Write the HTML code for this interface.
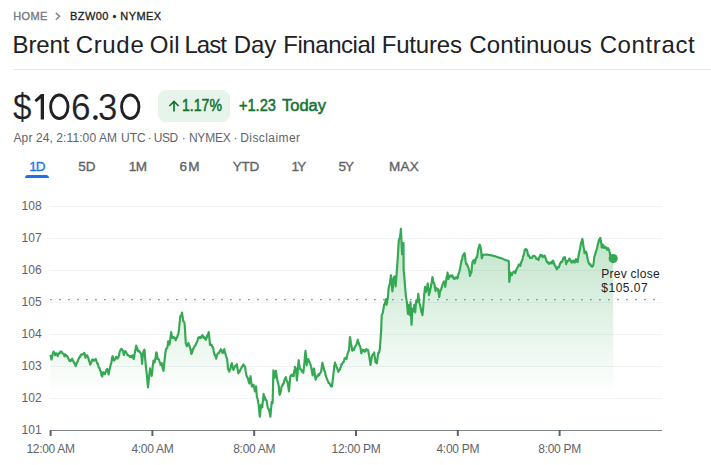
<!DOCTYPE html>
<html><head><meta charset="utf-8">
<style>
html,body{margin:0;padding:0;background:#fff;}
body{width:711px;height:465px;position:relative;overflow:hidden;font-family:"Liberation Sans",sans-serif;}
.abs{position:absolute;white-space:nowrap;line-height:1;}
#crumb1{left:13.2px;top:10.5px;font-size:11px;font-weight:normal;-webkit-text-stroke:0.35px #757a80;letter-spacing:0.4px;color:#757a80;}
#crumb2{left:70px;top:10.5px;font-size:11px;font-weight:normal;-webkit-text-stroke:0.3px #202124;letter-spacing:0.45px;color:#202124;}
.tw{top:32.9px;font-size:24px;color:#202124;transform-origin:0 0;}
#hr{left:13px;top:69px;width:698px;height:1px;background:#e5e7ea;}
.pg{top:89.7px;font-size:36.5px;-webkit-text-stroke:0.15px #fff;color:#202124;transform-origin:0 0;}
#badge{left:158px;top:90px;width:72px;height:32px;border-radius:8px;background:#e6f4ea;}
#pct{left:182.4px;top:97.9px;font-size:16px;font-weight:normal;-webkit-text-stroke:0.5px #137333;color:#137333;transform-origin:0 0;transform:scaleX(0.88);}
#today{left:238.9px;top:97.9px;font-size:16px;font-weight:normal;-webkit-text-stroke:0.5px #137333;color:#137333;transform-origin:0 0;transform:scaleX(0.91);}
#today2{left:282.2px;top:97.9px;font-size:16px;font-weight:normal;-webkit-text-stroke:0.5px #137333;color:#137333;transform-origin:0 0;transform:scaleX(1.03);}
.dt{top:131.5px;font-size:12px;color:#5f6368;transform-origin:0 0;}
.tab{top:159.7px;font-size:13.5px;font-weight:normal;-webkit-text-stroke:0.35px;color:#5f6368;transform:translateX(-50%);}
#t1{color:#1a73e8;}
#ul{left:25px;top:175px;width:24px;height:3px;border-radius:3px 3px 0 0;background:#1a73e8;}
svg text{font-family:"Liberation Sans",sans-serif;font-size:12px;fill:#5f6368;}
</style></head><body>
<div class="abs" id="crumb1">HOME</div>
<svg class="abs" style="left:54px;top:11px" width="9" height="10" viewBox="0 0 9 10"><path d="M1.8 1.9 L5.6 5.35 L1.8 8.8" fill="none" stroke="#80868b" stroke-width="1.45"/></svg>
<div class="abs" id="crumb2">BZW00 • NYMEX</div>
<div class="abs tw" style="left:12.58px;letter-spacing:-0.146px">Brent</div><div class="abs tw" style="left:75.66px;letter-spacing:0.679px">Crude</div><div class="abs tw" style="left:149.85px;letter-spacing:0.162px">Oil</div><div class="abs tw" style="left:184.39px;letter-spacing:-0.911px">Last</div><div class="abs tw" style="left:233.82px;letter-spacing:-0.088px">Day</div><div class="abs tw" style="left:283.3px;letter-spacing:-0.459px">Financial</div><div class="abs tw" style="left:381.66px;letter-spacing:-0.164px">Futures</div><div class="abs tw" style="left:469.26px;letter-spacing:0.12px">Continuous</div><div class="abs tw" style="left:599.65px;letter-spacing:0.624px">Contract</div>
<div class="abs" id="hr"></div>
<div class="abs pg" style="left:12.9px;transform:scaleX(0.91)">$</div>
<div class="abs pg" style="left:70.9px;transform:scaleX(0.965)">6</div>
<div class="abs pg" style="left:98.4px;transform:scaleX(0.953)">3</div>
<svg class="abs" style="left:0;top:85px" width="160" height="45" viewBox="0 85 160 45">
<path d="M44,94.1 L41.0,94.1 L34.5,99.9 L36.3,102.3 L40.7,98.4 L40.7,119.5 L44,119.5 Z" fill="#202124"/>
<ellipse cx="59.3" cy="106.75" rx="8.7" ry="11.75" fill="none" stroke="#202124" stroke-width="2.9"/>
<ellipse cx="130.25" cy="106.75" rx="8.7" ry="11.75" fill="none" stroke="#202124" stroke-width="2.9"/>
<circle cx="95.45" cy="117.6" r="2.3" fill="#202124"/>
</svg>
<div class="abs" id="badge"></div>
<svg class="abs" style="left:167px;top:99px" width="14" height="14" viewBox="0 0 14 14"><path d="M7 12.5 V2.6 M2.4 7 L7 2.4 L11.6 7" fill="none" stroke="#137333" stroke-width="1.7"/></svg>
<div class="abs" id="pct">1.17%</div>
<div class="abs" id="today">+1.23</div><div class="abs" id="today2">Today</div>
<div class="abs dt" style="left:13.5px;letter-spacing:0.1px">Apr 24, 2:11:00</div><div class="abs dt" style="left:99.0px">AM</div><div class="abs dt" style="left:121.0px">UTC</div><div class="abs dt" style="left:147.6px">·</div><div class="abs dt" style="left:153.7px;letter-spacing:-0.4px">USD</div><div class="abs dt" style="left:181.8px">·</div><div class="abs dt" style="left:188.9px;letter-spacing:-0.2px">NYMEX</div><div class="abs dt" style="left:233.4px">·</div><div class="abs dt" style="left:240.2px;letter-spacing:0.43px">Disclaimer</div>
<div class="abs tab" id="t1" style="left:37.4px;letter-spacing:-0.9px;margin-left:-0.45px">1D</div>
<div class="abs tab" style="left:86.9px;letter-spacing:0.2px;margin-left:0.1px">5D</div>
<div class="abs tab" style="left:137.85px;letter-spacing:-0.4px;margin-left:-0.2px">1M</div>
<div class="abs tab" style="left:189.6px;letter-spacing:1.3px;margin-left:0.65px">6M</div>
<div class="abs tab" style="left:246.05px;letter-spacing:-0.2px;margin-left:-0.1px">YTD</div>
<div class="abs tab" style="left:298.85px;letter-spacing:-1.6px;margin-left:-0.8px">1Y</div>
<div class="abs tab" style="left:346.35px;letter-spacing:-1.0px;margin-left:-0.5px">5Y</div>
<div class="abs tab" style="left:403.9px;letter-spacing:0.3px;margin-left:0.15px">MAX</div>
<div class="abs" id="ul"></div>
<svg class="abs" style="left:0;top:0" width="711" height="465" viewBox="0 0 711 465">
<defs><linearGradient id="g" x1="0" y1="0" x2="0" y2="1" gradientUnits="userSpaceOnUse" >
<stop offset="0" stop-color="#34a853" stop-opacity="0.38"/><stop offset="1" stop-color="#34a853" stop-opacity="0"/></linearGradient>
<linearGradient id="g2" x1="0" y1="228" x2="0" y2="394" gradientUnits="userSpaceOnUse">
<stop offset="0" stop-color="#34a853" stop-opacity="0.32"/><stop offset="1" stop-color="#34a853" stop-opacity="0"/></linearGradient></defs>
<rect x="50" y="206" width="612" height="1" fill="#f1f3f4"/><rect x="50" y="238" width="612" height="1" fill="#f1f3f4"/><rect x="50" y="270" width="612" height="1" fill="#f1f3f4"/><rect x="50" y="302" width="612" height="1" fill="#f1f3f4"/><rect x="50" y="334" width="612" height="1" fill="#f1f3f4"/><rect x="50" y="366" width="612" height="1" fill="#f1f3f4"/><rect x="50" y="398" width="612" height="1" fill="#f1f3f4"/>
<polygon points="50.5,430 50.5,356.2 50.5,355.81 51.2,357.74 51.5,359.5 51.9,358.25 52.6,354.21 53.3,352.47 53.5,351.6 54.0,352.39 54.7,353.24 55.2,355.3 55.4,355.12 56.1,353.38 56.8,353.55 56.9,353.6 57.5,354.6 57.7,356.2 58.2,354.3 58.9,353.63 59.4,352.8 59.6,353.45 60.3,351.65 61.0,351.62 61.7,352.25 61.9,351.9 62.4,353.54 63.1,353.64 63.8,354.16 64.5,356.35 64.5,355.3 65.2,354.3 65.9,356.09 66.2,355.3 66.6,355.51 67.3,356.37 68.0,357.48 68.7,359.5 68.7,359.08 69.4,360.9 70.1,360.2 70.4,361.2 70.8,360.79 71.5,359.89 72.1,358.7 72.2,358.67 72.9,360.78 73.6,361.44 73.8,362.9 74.3,362.66 75.0,363.99 75.7,366.05 75.8,365.8 76.4,364.17 77.1,362.2 77.8,361.08 78.0,360.4 78.5,359.28 79.2,357.51 79.9,357.17 80.5,355.3 80.6,355.69 81.3,354.36 82.0,354.76 82.2,354.5 82.7,354.13 83.4,354.31 84.1,353.39 84.2,352.8 84.8,354.13 85.5,357.76 85.6,357.0 86.2,355.56 86.9,355.52 87.3,355.3 87.6,356.82 88.3,357.72 88.9,360.4 89.0,360.73 89.7,362.19 90.1,364.6 90.4,364.27 91.1,362.86 91.8,360.82 92.3,359.5 92.5,360.43 93.2,359.57 93.9,360.78 94.0,360.4 94.6,360.11 95.3,359.51 95.7,359.0 96.0,359.59 96.7,362.04 97.4,363.88 97.4,362.9 98.1,364.94 98.8,367.46 99.1,368.0 99.5,367.83 100.2,370.64 100.8,371.4 100.9,372.11 101.6,375.56 102.1,376.4 102.3,376.41 103.0,372.78 103.3,372.2 103.7,372.42 104.4,373.87 105.0,374.2 105.1,372.9 105.8,372.12 106.5,369.72 107.0,369.2 107.2,368.95 107.9,370.88 108.6,374.5 108.7,374.2 109.3,370.52 110.0,368.0 110.0,367.44 110.7,364.63 111.4,362.56 111.7,360.4 112.1,357.61 112.6,356.2 112.8,356.79 113.5,359.46 113.8,360.4 114.2,360.6 114.9,359.32 115.6,358.29 115.9,357.0 116.3,356.91 117.0,357.91 117.6,358.7 117.7,358.09 118.4,357.15 119.1,355.21 119.3,353.6 119.8,351.6 120.5,349.92 121.0,349.4 121.2,348.92 121.9,349.29 122.6,350.21 122.7,350.3 123.3,352.85 123.9,355.0 124.0,354.18 124.7,351.51 125.2,351.1 125.4,351.22 126.1,352.14 126.8,353.6 126.9,353.6 127.5,355.2 128.2,355.32 128.9,355.63 129.5,356.2 129.6,356.51 130.3,356.99 131.0,355.97 131.1,357.0 131.7,357.15 132.4,356.04 132.5,355.3 133.1,357.82 133.7,358.7 133.8,358.86 134.5,354.51 135.2,351.07 135.4,350.3 135.9,346.43 136.2,345.5 136.6,347.11 137.3,348.16 137.9,351.1 138.0,350.2 138.7,350.84 139.4,351.06 139.6,351.9 140.1,352.55 140.8,353.32 141.3,355.3 141.5,356.33 142.1,363.8 142.2,362.04 142.9,354.99 143.3,351.9 143.6,351.23 144.3,349.63 144.6,350.3 145.0,356.37 145.5,362.1 145.7,364.45 146.3,370.5 146.4,370.72 147.1,377.91 147.8,385.08 148.0,387.4 148.5,382.28 149.2,375.0 149.4,373.9 149.9,370.0 150.0,368.3 150.6,372.07 151.3,374.04 151.7,375.9 152.0,373.32 152.7,366.52 153.4,361.5 153.4,360.62 154.1,361.64 154.7,362.4 154.8,361.29 155.5,358.37 156.2,352.74 156.4,352.3 156.9,353.71 157.6,359.19 157.6,358.2 158.3,359.29 159.0,359.48 159.3,360.7 159.7,362.19 160.4,363.51 160.5,364.9 161.1,364.18 161.8,363.2 161.8,364.25 162.5,367.13 163.2,369.89 163.5,370.8 163.9,366.42 164.6,359.9 164.9,357.3 165.3,353.51 166.0,348.9 166.0,349.5 166.7,348.45 167.2,348.0 167.4,347.27 168.1,341.6 168.2,341.3 168.8,342.39 169.4,344.7 169.5,344.64 170.2,339.79 170.9,334.27 171.1,332.0 171.6,334.8 172.3,337.8 172.3,337.1 173.0,337.88 173.7,337.01 174.4,337.9 174.5,337.9 175.1,338.83 175.7,340.4 175.8,339.17 176.5,337.82 177.0,337.9 177.2,336.81 177.9,334.67 178.4,333.7 178.6,332.29 179.3,326.44 179.5,323.6 180.0,319.26 180.4,316.0 180.7,316.36 181.4,315.07 182.1,312.6 182.1,313.6 182.8,317.65 183.2,321.0 183.5,320.94 184.2,322.26 184.6,323.6 184.9,327.98 185.6,339.78 185.8,343.8 186.3,344.73 187.0,346.25 187.1,345.5 187.7,345.18 188.4,343.13 188.5,343.0 189.1,345.04 189.7,346.4 189.8,347.5 190.5,349.02 191.2,353.37 191.4,353.9 191.9,353.24 192.6,350.77 193.0,348.9 193.3,349.01 194.0,347.38 194.7,346.4 194.7,345.69 195.4,345.64 196.1,343.23 196.4,343.0 196.8,342.46 197.5,340.74 198.1,337.9 198.2,337.62 198.9,337.31 199.6,338.18 199.8,337.1 200.3,337.9 201.0,337.11 201.1,337.9 201.7,336.14 202.4,335.1 202.7,335.4 203.1,336.92 203.8,337.79 204.3,337.9 204.5,337.22 205.2,339.04 205.9,339.71 206.2,338.8 206.6,338.01 207.3,335.35 207.4,335.4 208.0,334.31 208.7,332.8 208.7,331.99 209.4,338.15 209.9,343.8 210.1,344.94 210.8,344.61 211.5,344.71 211.6,344.7 212.2,346.82 212.9,347.08 213.3,348.0 213.6,350.73 214.1,353.1 214.3,354.35 215.0,354.86 215.7,356.82 216.2,358.7 216.4,357.51 217.1,354.81 217.5,353.9 217.8,353.95 218.5,352.9 219.2,353.1 219.2,352.92 219.9,350.68 220.6,350.79 220.9,349.2 221.3,349.8 222.0,351.63 222.6,353.1 222.7,353.05 223.4,352.15 224.1,349.48 224.3,349.2 224.8,352.12 225.5,354.0 225.9,355.6 226.2,356.52 226.9,358.49 227.1,359.0 227.6,363.55 228.0,369.1 228.3,369.57 229.0,370.4 229.3,371.7 229.7,369.38 230.4,368.98 230.7,367.4 231.1,365.28 231.8,363.49 231.9,363.2 232.5,366.25 233.2,368.85 233.5,370.0 233.9,368.63 234.6,367.32 235.2,365.8 235.3,365.87 236.0,366.0 236.7,364.14 236.9,364.9 237.4,368.07 238.1,371.63 238.3,373.4 238.8,372.06 239.5,371.96 240.2,370.19 240.3,370.0 240.9,368.81 241.6,367.69 241.7,366.9 242.3,366.93 243.0,364.86 243.4,364.4 243.7,365.09 244.4,365.88 245.1,366.9 245.1,366.93 245.8,371.9 246.4,375.4 246.5,375.5 247.2,377.07 247.9,378.35 248.1,378.8 248.6,381.52 249.3,383.0 249.3,383.44 250.0,379.86 250.5,376.2 250.7,378.74 251.4,382.73 251.8,386.4 252.1,386.23 252.8,386.38 253.5,385.45 253.5,384.7 254.2,387.25 254.9,391.4 254.9,390.57 255.6,388.09 256.0,386.4 256.3,389.09 256.9,397.3 257.0,397.13 257.7,399.56 258.4,403.67 258.6,404.1 259.1,409.57 259.8,416.6 259.9,416.7 260.5,410.04 261.1,404.9 261.2,405.58 261.9,406.92 262.3,407.4 262.6,403.5 263.3,397.86 263.6,393.9 264.0,396.13 264.7,396.58 265.3,399.0 265.4,400.12 266.1,399.75 266.7,400.7 266.8,401.28 267.5,406.65 267.8,407.4 268.2,409.0 268.9,409.04 269.0,410.0 269.6,412.72 270.3,416.26 270.4,416.7 271.0,409.75 271.7,402.4 271.7,401.73 272.4,402.62 272.6,403.2 273.1,383.13 273.4,370.3 273.8,371.78 274.5,377.39 274.6,377.9 275.2,374.42 275.8,371.2 275.9,370.72 276.6,375.51 277.1,378.8 277.3,379.92 278.0,382.62 278.5,384.7 278.7,385.42 279.4,393.34 279.7,394.8 280.1,393.83 280.8,391.44 281.4,388.0 281.5,386.92 282.2,385.83 282.9,383.89 283.0,384.7 283.6,383.61 284.2,381.3 284.3,380.55 285.0,378.51 285.7,377.42 285.9,377.1 286.4,379.51 287.1,381.4 287.3,381.3 287.8,383.93 288.5,388.1 288.9,391.4 289.2,389.07 289.9,380.7 290.3,376.2 290.6,376.52 291.3,374.9 292.0,374.55 292.3,375.4 292.7,376.04 293.4,375.86 293.7,376.2 294.1,372.16 294.8,368.64 294.9,366.9 295.5,368.12 296.0,368.6 296.2,371.89 296.9,380.4 296.9,379.48 297.6,373.33 298.3,363.74 298.7,360.2 299.0,363.1 299.7,367.1 299.9,368.6 300.4,368.75 301.1,369.92 301.6,370.3 301.8,371.53 302.5,371.11 303.2,371.84 303.3,372.8 303.9,367.41 304.5,361.9 304.6,360.22 305.3,352.24 305.5,350.9 306.0,356.16 306.7,365.3 306.7,364.31 307.4,361.41 308.0,359.3 308.1,359.06 308.8,360.26 309.5,362.47 309.5,361.9 310.2,363.54 310.9,366.1 311.6,369.22 312.3,373.42 312.6,375.4 313.0,372.25 313.7,369.1 313.9,368.6 314.4,370.77 315.1,376.88 315.6,379.6 315.8,379.29 316.5,377.03 317.2,376.18 317.6,375.4 317.9,376.2 318.6,374.0 319.3,375.2 319.3,374.5 320.0,373.32 320.7,372.43 321.0,372.0 321.4,370.08 322.1,364.46 322.4,362.7 322.8,364.29 323.5,367.44 323.9,368.6 324.2,370.63 324.9,371.48 325.2,372.8 325.6,374.94 326.3,377.14 326.9,378.8 327.0,379.35 327.7,380.57 328.4,382.17 328.6,383.0 329.1,382.75 329.8,383.95 330.3,385.5 330.5,384.66 331.2,386.51 331.9,385.81 332.0,386.4 332.6,381.01 333.2,377.1 333.3,375.09 334.0,369.05 334.2,366.1 334.7,364.67 335.0,362.5 335.4,364.08 336.1,365.32 336.7,367.6 336.8,367.28 337.5,369.12 338.2,371.22 338.4,371.8 338.9,370.31 339.6,369.92 340.1,369.3 340.3,367.99 341.0,366.79 341.4,364.2 341.7,364.94 342.4,363.3 343.1,361.94 343.1,362.5 343.8,361.8 344.5,358.62 344.8,358.3 345.2,358.17 345.9,357.72 346.5,359.1 346.6,358.35 347.3,355.11 347.7,353.2 348.0,352.63 348.7,350.62 349.0,350.7 349.4,344.71 349.9,337.2 350.1,337.33 350.8,342.16 351.0,343.9 351.5,345.83 352.2,350.48 352.2,350.7 352.9,349.36 353.6,348.99 353.9,349.9 354.3,348.5 355.0,346.64 355.3,346.5 355.7,345.89 356.4,344.36 356.6,343.9 357.1,342.7 357.8,339.7 357.8,340.05 358.5,342.44 359.1,343.9 359.2,345.02 359.9,345.92 360.3,347.3 360.6,348.39 361.3,353.28 361.5,353.2 362.0,351.16 362.7,350.65 362.8,349.9 363.4,350.78 364.1,350.12 364.5,351.5 364.8,351.8 365.5,350.89 366.2,349.0 366.2,349.28 366.9,349.89 367.6,350.43 367.9,349.9 368.3,351.02 369.0,355.22 369.3,356.6 369.7,359.37 370.4,364.2 370.4,364.94 371.1,361.07 371.8,357.32 371.8,356.6 372.5,355.33 373.0,354.1 373.2,354.68 373.9,353.23 374.2,352.4 374.6,355.93 375.3,360.35 375.5,362.5 376.0,361.79 376.7,362.46 376.9,363.4 377.4,358.87 378.0,354.1 378.1,352.98 378.8,352.86 379.5,350.52 379.7,349.9 380.2,343.55 380.9,334.26 381.2,330.0 381.6,318.48 381.7,315.1 382.3,313.88 383.0,312.5 383.0,311.41 383.7,307.76 384.0,304.8 384.4,304.55 385.1,302.61 385.3,302.2 385.8,299.99 386.0,299.0 386.5,304.18 386.6,304.8 387.2,300.57 387.9,298.22 387.9,297.7 388.5,289.3 388.6,288.36 389.3,285.23 389.8,284.2 390.0,282.05 390.7,277.34 390.9,275.2 391.4,279.92 392.1,288.61 392.4,291.3 392.8,288.16 393.5,279.78 393.7,277.7 394.2,276.72 394.6,276.4 394.9,279.26 395.6,286.1 395.6,286.5 396.3,278.1 396.7,272.6 397.0,268.66 397.7,258.91 397.9,255.8 398.4,246.43 398.8,240.6 399.1,239.12 399.8,237.7 399.9,238.0 400.5,233.02 400.9,228.8 401.2,234.69 401.9,250.03 402.1,254.1 402.6,249.1 403.3,243.7 403.5,243.1 403.6,270.0 404.0,273.34 404.4,277.7 404.7,281.95 405.3,289.3 405.4,290.81 405.9,295.8 406.1,297.59 406.8,301.64 407.0,303.5 407.5,309.26 407.9,313.8 408.2,310.72 408.8,304.8 408.9,306.01 409.6,314.26 409.6,315.1 410.3,305.93 410.5,302.2 411.0,312.84 411.5,324.8 411.7,322.27 412.4,308.7 412.4,309.66 413.1,309.46 413.4,311.3 413.8,308.32 414.3,304.8 414.5,306.95 415.2,311.3 415.2,312.33 415.9,304.19 416.3,300.3 416.6,300.36 417.3,301.56 417.3,302.2 418.0,296.72 418.2,293.9 418.7,296.96 419.4,302.94 419.5,303.5 420.1,305.11 420.8,308.7 420.8,308.75 421.5,312.5 422.2,313.49 422.4,315.1 422.9,310.8 423.3,306.1 423.6,302.25 424.3,293.2 424.3,294.05 425.0,287.25 425.0,286.8 425.7,290.18 425.9,291.9 426.4,290.27 426.8,287.4 427.1,286.5 427.8,283.45 427.9,284.2 428.5,289.65 428.9,295.1 429.2,294.02 429.8,291.9 429.9,291.37 430.6,288.09 430.7,288.1 431.3,284.19 431.7,282.9 432.0,280.07 432.4,277.1 432.7,278.03 433.4,282.31 433.7,282.9 434.1,282.96 434.6,285.5 434.8,287.07 435.5,290.84 435.6,290.6 436.2,288.26 436.6,288.1 436.9,289.26 437.6,289.32 438.2,289.3 438.3,290.96 439.0,295.08 439.2,297.1 439.7,293.6 440.1,291.3 440.4,290.33 441.1,289.94 441.4,288.1 441.8,287.1 442.5,284.49 442.7,284.2 443.2,283.04 443.9,281.31 444.0,281.6 444.6,283.01 445.3,286.8 445.3,285.92 446.0,282.57 446.3,279.7 446.7,276.86 447.4,274.15 447.5,272.6 448.1,275.89 448.5,279.0 448.8,277.88 449.5,277.02 449.8,276.4 450.2,275.53 450.9,275.61 451.1,275.8 451.6,276.65 452.3,276.28 452.4,275.4 453.0,277.59 453.6,278.4 453.7,278.63 454.4,278.88 454.9,277.7 455.1,278.58 455.8,277.39 456.2,277.1 456.5,277.88 457.2,277.11 457.5,278.4 457.9,277.11 458.5,273.9 458.6,273.46 459.3,271.83 459.9,269.3 460.0,269.09 460.7,264.65 461.2,262.5 461.4,260.72 462.1,259.89 462.8,255.37 462.9,255.8 463.5,254.82 464.2,253.47 464.6,253.2 464.9,254.9 465.6,260.88 465.9,262.5 466.3,264.35 467.0,264.17 467.6,265.9 467.7,266.54 468.4,267.81 469.1,270.44 469.3,270.9 469.8,274.31 470.0,276.0 470.5,274.05 471.2,272.34 471.4,272.6 471.9,267.0 472.5,261.7 472.6,262.45 473.3,260.56 473.7,260.0 474.0,260.13 474.7,263.39 474.7,262.5 475.4,261.14 475.9,258.3 476.1,258.04 476.8,256.83 477.1,257.4 477.5,254.14 478.2,249.39 478.4,249.0 478.9,247.15 479.6,244.5 479.8,244.8 480.3,246.31 481.0,249.8 481.0,249.27 481.7,257.39 481.8,258.3 482.4,256.89 482.7,254.9 483.1,254.87 483.8,254.82 484.5,254.77 485.2,254.72 485.9,254.67 486.6,254.62 486.9,254.6 487.3,254.66 488.0,254.78 488.7,254.89 489.4,255.0 490.1,255.11 490.8,255.22 491.5,255.34 491.9,255.4 492.2,255.49 492.9,255.69 493.6,255.9 494.3,256.11 495.0,256.31 495.7,256.52 496.4,256.72 497.0,256.9 497.1,256.93 497.8,257.17 498.5,257.4 499.2,257.63 499.9,257.87 500.6,258.1 501.3,258.33 502.0,258.57 502.1,258.6 502.7,258.84 503.4,259.13 504.1,259.41 504.8,259.69 505.5,259.98 506.2,260.26 506.3,260.3 506.9,260.52 507.6,260.77 508.3,261.02 508.8,261.2 509.0,269.48 509.3,281.9 509.7,279.35 510.4,273.18 510.5,272.6 511.1,273.52 511.8,275.07 511.9,275.2 512.5,273.51 513.0,272.6 513.2,272.21 513.9,271.46 514.6,271.8 515.3,273.19 515.6,272.1 516.0,270.22 516.7,269.2 517.3,267.6 517.4,267.69 518.1,266.8 518.6,265.0 518.8,264.48 519.5,264.97 520.2,265.29 520.3,265.9 520.9,263.58 521.5,261.7 521.6,261.23 522.3,259.92 523.0,257.26 523.2,255.8 523.7,255.07 524.3,252.4 524.4,251.11 525.1,249.43 525.7,249.0 525.8,249.52 526.5,250.36 527.0,249.8 527.2,250.74 527.9,254.49 528.2,255.8 528.6,255.01 529.3,256.4 529.9,257.1 530.0,258.03 530.7,257.75 531.4,257.76 532.1,257.96 532.4,256.9 532.8,256.25 533.5,255.79 534.2,255.72 534.9,256.37 535.0,256.3 535.6,257.41 536.3,258.8 536.7,258.3 537.0,259.0 537.7,259.33 538.4,259.5 538.4,260.08 539.1,257.84 539.7,256.6 539.8,256.62 540.5,254.84 541.2,255.82 541.2,255.2 541.9,255.19 542.6,257.28 542.9,256.6 543.3,256.85 544.0,255.97 544.6,256.3 544.7,255.7 545.4,257.48 545.9,259.1 546.1,259.89 546.8,261.72 547.3,262.5 547.5,261.81 548.2,262.3 548.9,263.87 549.0,263.9 549.6,263.59 550.3,262.58 550.7,262.5 551.0,262.12 551.7,263.47 551.9,263.4 552.4,261.32 553.1,260.56 553.2,260.8 553.8,262.41 554.4,264.2 554.5,265.36 555.2,265.75 555.7,266.2 555.9,267.56 556.6,268.47 556.9,269.3 557.3,268.1 558.0,267.06 558.6,266.7 558.7,267.52 559.4,265.6 560.1,263.36 560.3,263.4 560.8,261.85 561.5,262.2 562.0,261.7 562.2,261.56 562.9,259.17 563.3,258.3 563.6,257.54 564.3,257.92 564.9,257.1 565.0,258.58 565.7,260.87 566.2,264.2 566.4,262.78 567.1,262.04 567.8,260.83 567.9,260.8 568.5,260.5 569.2,258.61 569.6,258.8 569.9,259.87 570.1,259.5 570.6,261.1 571.3,262.08 571.5,262.5 572.0,261.35 572.7,262.33 573.2,260.8 573.4,260.59 574.1,262.4 574.8,261.81 574.9,262.5 575.5,260.03 576.0,259.1 576.2,260.12 576.9,260.64 577.4,262.2 577.6,262.13 578.3,257.39 578.6,255.8 579.0,253.27 579.7,250.11 579.9,249.8 580.4,246.49 581.1,242.3 581.1,242.66 581.8,241.3 582.3,238.9 582.5,239.41 583.2,244.48 583.6,247.3 583.9,248.14 584.6,253.26 584.8,253.2 585.3,252.13 586.0,251.53 586.2,252.4 586.7,253.71 587.3,257.4 587.4,257.53 588.1,261.19 588.7,262.5 588.8,263.44 589.5,263.81 590.2,265.09 590.4,264.2 590.9,265.88 591.6,265.59 592.1,266.7 592.3,265.62 593.0,265.93 593.4,264.2 593.7,262.64 594.4,256.17 594.6,255.8 595.1,254.75 595.8,252.13 595.8,252.4 596.5,249.86 597.1,248.2 597.2,247.41 597.9,244.1 598.5,242.3 598.6,240.92 599.3,239.55 599.7,238.9 600.0,238.24 600.5,238.0 600.7,240.55 601.4,244.15 601.7,247.3 602.1,247.55 602.8,244.54 603.0,244.8 603.5,245.53 604.2,247.3 604.2,248.01 604.9,247.86 605.6,246.85 605.6,247.0 606.3,247.52 606.9,249.8 607.0,249.61 607.7,248.45 608.1,248.2 608.4,249.75 609.1,249.61 609.3,250.7 609.8,252.95 610.3,255.8 610.5,256.87 611.2,255.64 611.9,257.15 612.6,258.71 613.2,258.6 613.2,430" fill="url(#g2)"/>
<rect x="50" y="299" width="1.8" height="1.3" fill="#8a9095"/><rect x="59" y="299" width="1.8" height="1.3" fill="#8a9095"/><rect x="68" y="299" width="1.8" height="1.3" fill="#8a9095"/><rect x="77" y="299" width="1.8" height="1.3" fill="#8a9095"/><rect x="86" y="299" width="1.8" height="1.3" fill="#8a9095"/><rect x="95" y="299" width="1.8" height="1.3" fill="#8a9095"/><rect x="104" y="299" width="1.8" height="1.3" fill="#8a9095"/><rect x="113" y="299" width="1.8" height="1.3" fill="#8a9095"/><rect x="122" y="299" width="1.8" height="1.3" fill="#8a9095"/><rect x="131" y="299" width="1.8" height="1.3" fill="#8a9095"/><rect x="140" y="299" width="1.8" height="1.3" fill="#8a9095"/><rect x="149" y="299" width="1.8" height="1.3" fill="#8a9095"/><rect x="158" y="299" width="1.8" height="1.3" fill="#8a9095"/><rect x="167" y="299" width="1.8" height="1.3" fill="#8a9095"/><rect x="176" y="299" width="1.8" height="1.3" fill="#8a9095"/><rect x="185" y="299" width="1.8" height="1.3" fill="#8a9095"/><rect x="194" y="299" width="1.8" height="1.3" fill="#8a9095"/><rect x="203" y="299" width="1.8" height="1.3" fill="#8a9095"/><rect x="212" y="299" width="1.8" height="1.3" fill="#8a9095"/><rect x="221" y="299" width="1.8" height="1.3" fill="#8a9095"/><rect x="230" y="299" width="1.8" height="1.3" fill="#8a9095"/><rect x="239" y="299" width="1.8" height="1.3" fill="#8a9095"/><rect x="248" y="299" width="1.8" height="1.3" fill="#8a9095"/><rect x="257" y="299" width="1.8" height="1.3" fill="#8a9095"/><rect x="266" y="299" width="1.8" height="1.3" fill="#8a9095"/><rect x="275" y="299" width="1.8" height="1.3" fill="#8a9095"/><rect x="284" y="299" width="1.8" height="1.3" fill="#8a9095"/><rect x="293" y="299" width="1.8" height="1.3" fill="#8a9095"/><rect x="302" y="299" width="1.8" height="1.3" fill="#8a9095"/><rect x="311" y="299" width="1.8" height="1.3" fill="#8a9095"/><rect x="320" y="299" width="1.8" height="1.3" fill="#8a9095"/><rect x="329" y="299" width="1.8" height="1.3" fill="#8a9095"/><rect x="338" y="299" width="1.8" height="1.3" fill="#8a9095"/><rect x="347" y="299" width="1.8" height="1.3" fill="#8a9095"/><rect x="356" y="299" width="1.8" height="1.3" fill="#8a9095"/><rect x="365" y="299" width="1.8" height="1.3" fill="#8a9095"/><rect x="374" y="299" width="1.8" height="1.3" fill="#8a9095"/><rect x="383" y="299" width="1.8" height="1.3" fill="#8a9095"/><rect x="392" y="299" width="1.8" height="1.3" fill="#8a9095"/><rect x="401" y="299" width="1.8" height="1.3" fill="#8a9095"/><rect x="410" y="299" width="1.8" height="1.3" fill="#8a9095"/><rect x="419" y="299" width="1.8" height="1.3" fill="#8a9095"/><rect x="428" y="299" width="1.8" height="1.3" fill="#8a9095"/><rect x="437" y="299" width="1.8" height="1.3" fill="#8a9095"/><rect x="446" y="299" width="1.8" height="1.3" fill="#8a9095"/><rect x="455" y="299" width="1.8" height="1.3" fill="#8a9095"/><rect x="464" y="299" width="1.8" height="1.3" fill="#8a9095"/><rect x="473" y="299" width="1.8" height="1.3" fill="#8a9095"/><rect x="482" y="299" width="1.8" height="1.3" fill="#8a9095"/><rect x="491" y="299" width="1.8" height="1.3" fill="#8a9095"/><rect x="500" y="299" width="1.8" height="1.3" fill="#8a9095"/><rect x="509" y="299" width="1.8" height="1.3" fill="#8a9095"/><rect x="518" y="299" width="1.8" height="1.3" fill="#8a9095"/><rect x="527" y="299" width="1.8" height="1.3" fill="#8a9095"/><rect x="536" y="299" width="1.8" height="1.3" fill="#8a9095"/><rect x="545" y="299" width="1.8" height="1.3" fill="#8a9095"/><rect x="554" y="299" width="1.8" height="1.3" fill="#8a9095"/><rect x="563" y="299" width="1.8" height="1.3" fill="#8a9095"/><rect x="572" y="299" width="1.8" height="1.3" fill="#8a9095"/><rect x="581" y="299" width="1.8" height="1.3" fill="#8a9095"/><rect x="590" y="299" width="1.8" height="1.3" fill="#8a9095"/><rect x="599" y="299" width="1.8" height="1.3" fill="#8a9095"/><rect x="608" y="299" width="1.8" height="1.3" fill="#8a9095"/><rect x="617" y="299" width="1.8" height="1.3" fill="#8a9095"/><rect x="626" y="299" width="1.8" height="1.3" fill="#8a9095"/><rect x="635" y="299" width="1.8" height="1.3" fill="#8a9095"/><rect x="644" y="299" width="1.8" height="1.3" fill="#8a9095"/><rect x="653" y="299" width="1.8" height="1.3" fill="#8a9095"/>
<rect x="50" y="430" width="612" height="1" fill="#80868b"/>
<rect x="49.6" y="430" width="2" height="6" fill="#5f6368"/><rect x="151.4" y="430" width="2" height="6" fill="#5f6368"/><rect x="253.2" y="430" width="2" height="6" fill="#5f6368"/><rect x="355.0" y="430" width="2" height="6" fill="#5f6368"/><rect x="456.8" y="430" width="2" height="6" fill="#5f6368"/><rect x="558.6" y="430" width="2" height="6" fill="#5f6368"/>
<polyline points="50.5,356.2 50.5,355.81 51.2,357.74 51.5,359.5 51.9,358.25 52.6,354.21 53.3,352.47 53.5,351.6 54.0,352.39 54.7,353.24 55.2,355.3 55.4,355.12 56.1,353.38 56.8,353.55 56.9,353.6 57.5,354.6 57.7,356.2 58.2,354.3 58.9,353.63 59.4,352.8 59.6,353.45 60.3,351.65 61.0,351.62 61.7,352.25 61.9,351.9 62.4,353.54 63.1,353.64 63.8,354.16 64.5,356.35 64.5,355.3 65.2,354.3 65.9,356.09 66.2,355.3 66.6,355.51 67.3,356.37 68.0,357.48 68.7,359.5 68.7,359.08 69.4,360.9 70.1,360.2 70.4,361.2 70.8,360.79 71.5,359.89 72.1,358.7 72.2,358.67 72.9,360.78 73.6,361.44 73.8,362.9 74.3,362.66 75.0,363.99 75.7,366.05 75.8,365.8 76.4,364.17 77.1,362.2 77.8,361.08 78.0,360.4 78.5,359.28 79.2,357.51 79.9,357.17 80.5,355.3 80.6,355.69 81.3,354.36 82.0,354.76 82.2,354.5 82.7,354.13 83.4,354.31 84.1,353.39 84.2,352.8 84.8,354.13 85.5,357.76 85.6,357.0 86.2,355.56 86.9,355.52 87.3,355.3 87.6,356.82 88.3,357.72 88.9,360.4 89.0,360.73 89.7,362.19 90.1,364.6 90.4,364.27 91.1,362.86 91.8,360.82 92.3,359.5 92.5,360.43 93.2,359.57 93.9,360.78 94.0,360.4 94.6,360.11 95.3,359.51 95.7,359.0 96.0,359.59 96.7,362.04 97.4,363.88 97.4,362.9 98.1,364.94 98.8,367.46 99.1,368.0 99.5,367.83 100.2,370.64 100.8,371.4 100.9,372.11 101.6,375.56 102.1,376.4 102.3,376.41 103.0,372.78 103.3,372.2 103.7,372.42 104.4,373.87 105.0,374.2 105.1,372.9 105.8,372.12 106.5,369.72 107.0,369.2 107.2,368.95 107.9,370.88 108.6,374.5 108.7,374.2 109.3,370.52 110.0,368.0 110.0,367.44 110.7,364.63 111.4,362.56 111.7,360.4 112.1,357.61 112.6,356.2 112.8,356.79 113.5,359.46 113.8,360.4 114.2,360.6 114.9,359.32 115.6,358.29 115.9,357.0 116.3,356.91 117.0,357.91 117.6,358.7 117.7,358.09 118.4,357.15 119.1,355.21 119.3,353.6 119.8,351.6 120.5,349.92 121.0,349.4 121.2,348.92 121.9,349.29 122.6,350.21 122.7,350.3 123.3,352.85 123.9,355.0 124.0,354.18 124.7,351.51 125.2,351.1 125.4,351.22 126.1,352.14 126.8,353.6 126.9,353.6 127.5,355.2 128.2,355.32 128.9,355.63 129.5,356.2 129.6,356.51 130.3,356.99 131.0,355.97 131.1,357.0 131.7,357.15 132.4,356.04 132.5,355.3 133.1,357.82 133.7,358.7 133.8,358.86 134.5,354.51 135.2,351.07 135.4,350.3 135.9,346.43 136.2,345.5 136.6,347.11 137.3,348.16 137.9,351.1 138.0,350.2 138.7,350.84 139.4,351.06 139.6,351.9 140.1,352.55 140.8,353.32 141.3,355.3 141.5,356.33 142.1,363.8 142.2,362.04 142.9,354.99 143.3,351.9 143.6,351.23 144.3,349.63 144.6,350.3 145.0,356.37 145.5,362.1 145.7,364.45 146.3,370.5 146.4,370.72 147.1,377.91 147.8,385.08 148.0,387.4 148.5,382.28 149.2,375.0 149.4,373.9 149.9,370.0 150.0,368.3 150.6,372.07 151.3,374.04 151.7,375.9 152.0,373.32 152.7,366.52 153.4,361.5 153.4,360.62 154.1,361.64 154.7,362.4 154.8,361.29 155.5,358.37 156.2,352.74 156.4,352.3 156.9,353.71 157.6,359.19 157.6,358.2 158.3,359.29 159.0,359.48 159.3,360.7 159.7,362.19 160.4,363.51 160.5,364.9 161.1,364.18 161.8,363.2 161.8,364.25 162.5,367.13 163.2,369.89 163.5,370.8 163.9,366.42 164.6,359.9 164.9,357.3 165.3,353.51 166.0,348.9 166.0,349.5 166.7,348.45 167.2,348.0 167.4,347.27 168.1,341.6 168.2,341.3 168.8,342.39 169.4,344.7 169.5,344.64 170.2,339.79 170.9,334.27 171.1,332.0 171.6,334.8 172.3,337.8 172.3,337.1 173.0,337.88 173.7,337.01 174.4,337.9 174.5,337.9 175.1,338.83 175.7,340.4 175.8,339.17 176.5,337.82 177.0,337.9 177.2,336.81 177.9,334.67 178.4,333.7 178.6,332.29 179.3,326.44 179.5,323.6 180.0,319.26 180.4,316.0 180.7,316.36 181.4,315.07 182.1,312.6 182.1,313.6 182.8,317.65 183.2,321.0 183.5,320.94 184.2,322.26 184.6,323.6 184.9,327.98 185.6,339.78 185.8,343.8 186.3,344.73 187.0,346.25 187.1,345.5 187.7,345.18 188.4,343.13 188.5,343.0 189.1,345.04 189.7,346.4 189.8,347.5 190.5,349.02 191.2,353.37 191.4,353.9 191.9,353.24 192.6,350.77 193.0,348.9 193.3,349.01 194.0,347.38 194.7,346.4 194.7,345.69 195.4,345.64 196.1,343.23 196.4,343.0 196.8,342.46 197.5,340.74 198.1,337.9 198.2,337.62 198.9,337.31 199.6,338.18 199.8,337.1 200.3,337.9 201.0,337.11 201.1,337.9 201.7,336.14 202.4,335.1 202.7,335.4 203.1,336.92 203.8,337.79 204.3,337.9 204.5,337.22 205.2,339.04 205.9,339.71 206.2,338.8 206.6,338.01 207.3,335.35 207.4,335.4 208.0,334.31 208.7,332.8 208.7,331.99 209.4,338.15 209.9,343.8 210.1,344.94 210.8,344.61 211.5,344.71 211.6,344.7 212.2,346.82 212.9,347.08 213.3,348.0 213.6,350.73 214.1,353.1 214.3,354.35 215.0,354.86 215.7,356.82 216.2,358.7 216.4,357.51 217.1,354.81 217.5,353.9 217.8,353.95 218.5,352.9 219.2,353.1 219.2,352.92 219.9,350.68 220.6,350.79 220.9,349.2 221.3,349.8 222.0,351.63 222.6,353.1 222.7,353.05 223.4,352.15 224.1,349.48 224.3,349.2 224.8,352.12 225.5,354.0 225.9,355.6 226.2,356.52 226.9,358.49 227.1,359.0 227.6,363.55 228.0,369.1 228.3,369.57 229.0,370.4 229.3,371.7 229.7,369.38 230.4,368.98 230.7,367.4 231.1,365.28 231.8,363.49 231.9,363.2 232.5,366.25 233.2,368.85 233.5,370.0 233.9,368.63 234.6,367.32 235.2,365.8 235.3,365.87 236.0,366.0 236.7,364.14 236.9,364.9 237.4,368.07 238.1,371.63 238.3,373.4 238.8,372.06 239.5,371.96 240.2,370.19 240.3,370.0 240.9,368.81 241.6,367.69 241.7,366.9 242.3,366.93 243.0,364.86 243.4,364.4 243.7,365.09 244.4,365.88 245.1,366.9 245.1,366.93 245.8,371.9 246.4,375.4 246.5,375.5 247.2,377.07 247.9,378.35 248.1,378.8 248.6,381.52 249.3,383.0 249.3,383.44 250.0,379.86 250.5,376.2 250.7,378.74 251.4,382.73 251.8,386.4 252.1,386.23 252.8,386.38 253.5,385.45 253.5,384.7 254.2,387.25 254.9,391.4 254.9,390.57 255.6,388.09 256.0,386.4 256.3,389.09 256.9,397.3 257.0,397.13 257.7,399.56 258.4,403.67 258.6,404.1 259.1,409.57 259.8,416.6 259.9,416.7 260.5,410.04 261.1,404.9 261.2,405.58 261.9,406.92 262.3,407.4 262.6,403.5 263.3,397.86 263.6,393.9 264.0,396.13 264.7,396.58 265.3,399.0 265.4,400.12 266.1,399.75 266.7,400.7 266.8,401.28 267.5,406.65 267.8,407.4 268.2,409.0 268.9,409.04 269.0,410.0 269.6,412.72 270.3,416.26 270.4,416.7 271.0,409.75 271.7,402.4 271.7,401.73 272.4,402.62 272.6,403.2 273.1,383.13 273.4,370.3 273.8,371.78 274.5,377.39 274.6,377.9 275.2,374.42 275.8,371.2 275.9,370.72 276.6,375.51 277.1,378.8 277.3,379.92 278.0,382.62 278.5,384.7 278.7,385.42 279.4,393.34 279.7,394.8 280.1,393.83 280.8,391.44 281.4,388.0 281.5,386.92 282.2,385.83 282.9,383.89 283.0,384.7 283.6,383.61 284.2,381.3 284.3,380.55 285.0,378.51 285.7,377.42 285.9,377.1 286.4,379.51 287.1,381.4 287.3,381.3 287.8,383.93 288.5,388.1 288.9,391.4 289.2,389.07 289.9,380.7 290.3,376.2 290.6,376.52 291.3,374.9 292.0,374.55 292.3,375.4 292.7,376.04 293.4,375.86 293.7,376.2 294.1,372.16 294.8,368.64 294.9,366.9 295.5,368.12 296.0,368.6 296.2,371.89 296.9,380.4 296.9,379.48 297.6,373.33 298.3,363.74 298.7,360.2 299.0,363.1 299.7,367.1 299.9,368.6 300.4,368.75 301.1,369.92 301.6,370.3 301.8,371.53 302.5,371.11 303.2,371.84 303.3,372.8 303.9,367.41 304.5,361.9 304.6,360.22 305.3,352.24 305.5,350.9 306.0,356.16 306.7,365.3 306.7,364.31 307.4,361.41 308.0,359.3 308.1,359.06 308.8,360.26 309.5,362.47 309.5,361.9 310.2,363.54 310.9,366.1 311.6,369.22 312.3,373.42 312.6,375.4 313.0,372.25 313.7,369.1 313.9,368.6 314.4,370.77 315.1,376.88 315.6,379.6 315.8,379.29 316.5,377.03 317.2,376.18 317.6,375.4 317.9,376.2 318.6,374.0 319.3,375.2 319.3,374.5 320.0,373.32 320.7,372.43 321.0,372.0 321.4,370.08 322.1,364.46 322.4,362.7 322.8,364.29 323.5,367.44 323.9,368.6 324.2,370.63 324.9,371.48 325.2,372.8 325.6,374.94 326.3,377.14 326.9,378.8 327.0,379.35 327.7,380.57 328.4,382.17 328.6,383.0 329.1,382.75 329.8,383.95 330.3,385.5 330.5,384.66 331.2,386.51 331.9,385.81 332.0,386.4 332.6,381.01 333.2,377.1 333.3,375.09 334.0,369.05 334.2,366.1 334.7,364.67 335.0,362.5 335.4,364.08 336.1,365.32 336.7,367.6 336.8,367.28 337.5,369.12 338.2,371.22 338.4,371.8 338.9,370.31 339.6,369.92 340.1,369.3 340.3,367.99 341.0,366.79 341.4,364.2 341.7,364.94 342.4,363.3 343.1,361.94 343.1,362.5 343.8,361.8 344.5,358.62 344.8,358.3 345.2,358.17 345.9,357.72 346.5,359.1 346.6,358.35 347.3,355.11 347.7,353.2 348.0,352.63 348.7,350.62 349.0,350.7 349.4,344.71 349.9,337.2 350.1,337.33 350.8,342.16 351.0,343.9 351.5,345.83 352.2,350.48 352.2,350.7 352.9,349.36 353.6,348.99 353.9,349.9 354.3,348.5 355.0,346.64 355.3,346.5 355.7,345.89 356.4,344.36 356.6,343.9 357.1,342.7 357.8,339.7 357.8,340.05 358.5,342.44 359.1,343.9 359.2,345.02 359.9,345.92 360.3,347.3 360.6,348.39 361.3,353.28 361.5,353.2 362.0,351.16 362.7,350.65 362.8,349.9 363.4,350.78 364.1,350.12 364.5,351.5 364.8,351.8 365.5,350.89 366.2,349.0 366.2,349.28 366.9,349.89 367.6,350.43 367.9,349.9 368.3,351.02 369.0,355.22 369.3,356.6 369.7,359.37 370.4,364.2 370.4,364.94 371.1,361.07 371.8,357.32 371.8,356.6 372.5,355.33 373.0,354.1 373.2,354.68 373.9,353.23 374.2,352.4 374.6,355.93 375.3,360.35 375.5,362.5 376.0,361.79 376.7,362.46 376.9,363.4 377.4,358.87 378.0,354.1 378.1,352.98 378.8,352.86 379.5,350.52 379.7,349.9 380.2,343.55 380.9,334.26 381.2,330.0 381.6,318.48 381.7,315.1 382.3,313.88 383.0,312.5 383.0,311.41 383.7,307.76 384.0,304.8 384.4,304.55 385.1,302.61 385.3,302.2 385.8,299.99 386.0,299.0 386.5,304.18 386.6,304.8 387.2,300.57 387.9,298.22 387.9,297.7 388.5,289.3 388.6,288.36 389.3,285.23 389.8,284.2 390.0,282.05 390.7,277.34 390.9,275.2 391.4,279.92 392.1,288.61 392.4,291.3 392.8,288.16 393.5,279.78 393.7,277.7 394.2,276.72 394.6,276.4 394.9,279.26 395.6,286.1 395.6,286.5 396.3,278.1 396.7,272.6 397.0,268.66 397.7,258.91 397.9,255.8 398.4,246.43 398.8,240.6 399.1,239.12 399.8,237.7 399.9,238.0 400.5,233.02 400.9,228.8 401.2,234.69 401.9,250.03 402.1,254.1 402.6,249.1 403.3,243.7 403.5,243.1 403.6,270.0 404.0,273.34 404.4,277.7 404.7,281.95 405.3,289.3 405.4,290.81 405.9,295.8 406.1,297.59 406.8,301.64 407.0,303.5 407.5,309.26 407.9,313.8 408.2,310.72 408.8,304.8 408.9,306.01 409.6,314.26 409.6,315.1 410.3,305.93 410.5,302.2 411.0,312.84 411.5,324.8 411.7,322.27 412.4,308.7 412.4,309.66 413.1,309.46 413.4,311.3 413.8,308.32 414.3,304.8 414.5,306.95 415.2,311.3 415.2,312.33 415.9,304.19 416.3,300.3 416.6,300.36 417.3,301.56 417.3,302.2 418.0,296.72 418.2,293.9 418.7,296.96 419.4,302.94 419.5,303.5 420.1,305.11 420.8,308.7 420.8,308.75 421.5,312.5 422.2,313.49 422.4,315.1 422.9,310.8 423.3,306.1 423.6,302.25 424.3,293.2 424.3,294.05 425.0,287.25 425.0,286.8 425.7,290.18 425.9,291.9 426.4,290.27 426.8,287.4 427.1,286.5 427.8,283.45 427.9,284.2 428.5,289.65 428.9,295.1 429.2,294.02 429.8,291.9 429.9,291.37 430.6,288.09 430.7,288.1 431.3,284.19 431.7,282.9 432.0,280.07 432.4,277.1 432.7,278.03 433.4,282.31 433.7,282.9 434.1,282.96 434.6,285.5 434.8,287.07 435.5,290.84 435.6,290.6 436.2,288.26 436.6,288.1 436.9,289.26 437.6,289.32 438.2,289.3 438.3,290.96 439.0,295.08 439.2,297.1 439.7,293.6 440.1,291.3 440.4,290.33 441.1,289.94 441.4,288.1 441.8,287.1 442.5,284.49 442.7,284.2 443.2,283.04 443.9,281.31 444.0,281.6 444.6,283.01 445.3,286.8 445.3,285.92 446.0,282.57 446.3,279.7 446.7,276.86 447.4,274.15 447.5,272.6 448.1,275.89 448.5,279.0 448.8,277.88 449.5,277.02 449.8,276.4 450.2,275.53 450.9,275.61 451.1,275.8 451.6,276.65 452.3,276.28 452.4,275.4 453.0,277.59 453.6,278.4 453.7,278.63 454.4,278.88 454.9,277.7 455.1,278.58 455.8,277.39 456.2,277.1 456.5,277.88 457.2,277.11 457.5,278.4 457.9,277.11 458.5,273.9 458.6,273.46 459.3,271.83 459.9,269.3 460.0,269.09 460.7,264.65 461.2,262.5 461.4,260.72 462.1,259.89 462.8,255.37 462.9,255.8 463.5,254.82 464.2,253.47 464.6,253.2 464.9,254.9 465.6,260.88 465.9,262.5 466.3,264.35 467.0,264.17 467.6,265.9 467.7,266.54 468.4,267.81 469.1,270.44 469.3,270.9 469.8,274.31 470.0,276.0 470.5,274.05 471.2,272.34 471.4,272.6 471.9,267.0 472.5,261.7 472.6,262.45 473.3,260.56 473.7,260.0 474.0,260.13 474.7,263.39 474.7,262.5 475.4,261.14 475.9,258.3 476.1,258.04 476.8,256.83 477.1,257.4 477.5,254.14 478.2,249.39 478.4,249.0 478.9,247.15 479.6,244.5 479.8,244.8 480.3,246.31 481.0,249.8 481.0,249.27 481.7,257.39 481.8,258.3 482.4,256.89 482.7,254.9 483.1,254.87 483.8,254.82 484.5,254.77 485.2,254.72 485.9,254.67 486.6,254.62 486.9,254.6 487.3,254.66 488.0,254.78 488.7,254.89 489.4,255.0 490.1,255.11 490.8,255.22 491.5,255.34 491.9,255.4 492.2,255.49 492.9,255.69 493.6,255.9 494.3,256.11 495.0,256.31 495.7,256.52 496.4,256.72 497.0,256.9 497.1,256.93 497.8,257.17 498.5,257.4 499.2,257.63 499.9,257.87 500.6,258.1 501.3,258.33 502.0,258.57 502.1,258.6 502.7,258.84 503.4,259.13 504.1,259.41 504.8,259.69 505.5,259.98 506.2,260.26 506.3,260.3 506.9,260.52 507.6,260.77 508.3,261.02 508.8,261.2 509.0,269.48 509.3,281.9 509.7,279.35 510.4,273.18 510.5,272.6 511.1,273.52 511.8,275.07 511.9,275.2 512.5,273.51 513.0,272.6 513.2,272.21 513.9,271.46 514.6,271.8 515.3,273.19 515.6,272.1 516.0,270.22 516.7,269.2 517.3,267.6 517.4,267.69 518.1,266.8 518.6,265.0 518.8,264.48 519.5,264.97 520.2,265.29 520.3,265.9 520.9,263.58 521.5,261.7 521.6,261.23 522.3,259.92 523.0,257.26 523.2,255.8 523.7,255.07 524.3,252.4 524.4,251.11 525.1,249.43 525.7,249.0 525.8,249.52 526.5,250.36 527.0,249.8 527.2,250.74 527.9,254.49 528.2,255.8 528.6,255.01 529.3,256.4 529.9,257.1 530.0,258.03 530.7,257.75 531.4,257.76 532.1,257.96 532.4,256.9 532.8,256.25 533.5,255.79 534.2,255.72 534.9,256.37 535.0,256.3 535.6,257.41 536.3,258.8 536.7,258.3 537.0,259.0 537.7,259.33 538.4,259.5 538.4,260.08 539.1,257.84 539.7,256.6 539.8,256.62 540.5,254.84 541.2,255.82 541.2,255.2 541.9,255.19 542.6,257.28 542.9,256.6 543.3,256.85 544.0,255.97 544.6,256.3 544.7,255.7 545.4,257.48 545.9,259.1 546.1,259.89 546.8,261.72 547.3,262.5 547.5,261.81 548.2,262.3 548.9,263.87 549.0,263.9 549.6,263.59 550.3,262.58 550.7,262.5 551.0,262.12 551.7,263.47 551.9,263.4 552.4,261.32 553.1,260.56 553.2,260.8 553.8,262.41 554.4,264.2 554.5,265.36 555.2,265.75 555.7,266.2 555.9,267.56 556.6,268.47 556.9,269.3 557.3,268.1 558.0,267.06 558.6,266.7 558.7,267.52 559.4,265.6 560.1,263.36 560.3,263.4 560.8,261.85 561.5,262.2 562.0,261.7 562.2,261.56 562.9,259.17 563.3,258.3 563.6,257.54 564.3,257.92 564.9,257.1 565.0,258.58 565.7,260.87 566.2,264.2 566.4,262.78 567.1,262.04 567.8,260.83 567.9,260.8 568.5,260.5 569.2,258.61 569.6,258.8 569.9,259.87 570.1,259.5 570.6,261.1 571.3,262.08 571.5,262.5 572.0,261.35 572.7,262.33 573.2,260.8 573.4,260.59 574.1,262.4 574.8,261.81 574.9,262.5 575.5,260.03 576.0,259.1 576.2,260.12 576.9,260.64 577.4,262.2 577.6,262.13 578.3,257.39 578.6,255.8 579.0,253.27 579.7,250.11 579.9,249.8 580.4,246.49 581.1,242.3 581.1,242.66 581.8,241.3 582.3,238.9 582.5,239.41 583.2,244.48 583.6,247.3 583.9,248.14 584.6,253.26 584.8,253.2 585.3,252.13 586.0,251.53 586.2,252.4 586.7,253.71 587.3,257.4 587.4,257.53 588.1,261.19 588.7,262.5 588.8,263.44 589.5,263.81 590.2,265.09 590.4,264.2 590.9,265.88 591.6,265.59 592.1,266.7 592.3,265.62 593.0,265.93 593.4,264.2 593.7,262.64 594.4,256.17 594.6,255.8 595.1,254.75 595.8,252.13 595.8,252.4 596.5,249.86 597.1,248.2 597.2,247.41 597.9,244.1 598.5,242.3 598.6,240.92 599.3,239.55 599.7,238.9 600.0,238.24 600.5,238.0 600.7,240.55 601.4,244.15 601.7,247.3 602.1,247.55 602.8,244.54 603.0,244.8 603.5,245.53 604.2,247.3 604.2,248.01 604.9,247.86 605.6,246.85 605.6,247.0 606.3,247.52 606.9,249.8 607.0,249.61 607.7,248.45 608.1,248.2 608.4,249.75 609.1,249.61 609.3,250.7 609.8,252.95 610.3,255.8 610.5,256.87 611.2,255.64 611.9,257.15 612.6,258.71 613.2,258.6" fill="none" stroke="#34a853" stroke-width="2.15" stroke-linejoin="round" stroke-linecap="round"/>
<circle cx="613.2" cy="258.6" r="4.6" fill="#34a853"/>
<text x="41.6" y="210.4" text-anchor="end">108</text><text x="41.6" y="242.4" text-anchor="end">107</text><text x="41.6" y="274.4" text-anchor="end">106</text><text x="41.6" y="306.4" text-anchor="end">105</text><text x="41.6" y="338.4" text-anchor="end">104</text><text x="41.6" y="370.4" text-anchor="end">103</text><text x="41.6" y="402.4" text-anchor="end">102</text><text x="41.6" y="434.4" text-anchor="end">101</text>
<text x="50.6" y="453.2" text-anchor="middle" style="letter-spacing:-0.3px">12:00 AM</text><text x="152.4" y="453.2" text-anchor="middle" style="letter-spacing:-0.3px">4:00 AM</text><text x="254.2" y="453.2" text-anchor="middle" style="letter-spacing:-0.3px">8:00 AM</text><text x="356.0" y="453.2" text-anchor="middle" style="letter-spacing:-0.3px">12:00 PM</text><text x="457.8" y="453.2" text-anchor="middle" style="letter-spacing:-0.3px">4:00 PM</text><text x="559.6" y="453.2" text-anchor="middle" style="letter-spacing:-0.3px">8:00 PM</text>
<text x="601.3" y="277.6" style="fill:#202124;letter-spacing:0.25px">Prev close</text>
<text x="601.3" y="292.3" style="fill:#202124;letter-spacing:0.5px">$105.07</text>
</svg>
</body></html>
